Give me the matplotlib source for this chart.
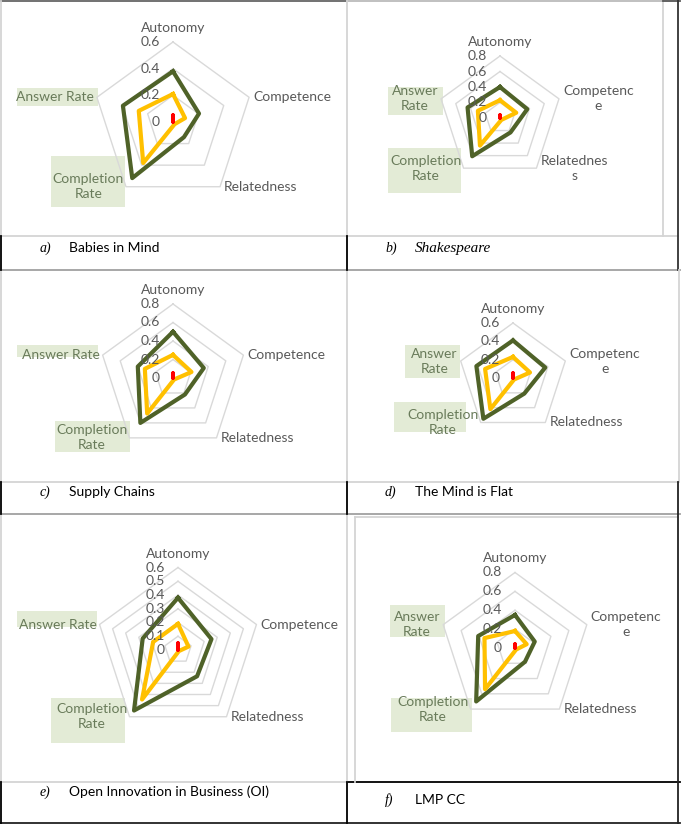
import numpy as np
import matplotlib.pyplot as plt
from matplotlib.patches import Rectangle

# radar axes, clockwise from the top
categories = ['Autonomy', 'Competence', 'Relatedness', 'Completion Rate', 'Answer Rate']
letters = ['a)', 'b)', 'c)', 'd)', 'e)', 'f)']
titles = ['Babies in Mind', 'Shakespeare', 'Supply Chains', 'The Mind is Flat',
          'Open Innovation in Business (OI)', 'LMP CC']

# values (a..f)
green = [[0.38, 0.205, 0.14, 0.52, 0.395],
         [0.40, 0.37, 0.23, 0.61, 0.44],
         [0.50, 0.35, 0.22, 0.60, 0.40],
         [0.41, 0.37, 0.21, 0.55, 0.42],
         [0.38, 0.256, 0.236, 0.544, 0.27],
         [0.35, 0.22, 0.18, 0.70, 0.41]]
yellow = [[0.21, 0.095, 0.02, 0.38, 0.27],
          [0.23, 0.22, 0.03, 0.44, 0.30],
          [0.25, 0.21, 0.02, 0.475, 0.32],
          [0.23, 0.195, 0.02, 0.42, 0.32],
          [0.19, 0.08, 0.01, 0.445, 0.19],
          [0.18, 0.13, 0.02, 0.54, 0.34]]
red = [[0.05, 0.0, 0.0, 0.0, 0.0],
       [0.04, 0.0, 0.0, 0.0, 0.0],
       [0.05, 0.0, 0.0, 0.0, 0.0],
       [0.06, 0.0, 0.0, 0.0, 0.0],
       [0.05, 0.0, 0.0, 0.0, 0.0],
       [0.04, 0.0, 0.0, 0.0, 0.0]]
r_max = [0.6, 0.8, 0.8, 0.6, 0.6, 0.8]
r_step = [0.2, 0.2, 0.2, 0.2, 0.1, 0.2]

# Excel wrapped some category labels
labels = [['Autonomy', 'Competence', 'Relatedness', 'Completion\nRate', 'Answer Rate'],
          ['Autonomy', 'Competenc\ne', 'Relatednes\ns', 'Completion\nRate', 'Answer\nRate'],
          ['Autonomy', 'Competence', 'Relatedness', 'Completion\nRate', 'Answer Rate'],
          ['Autonomy', 'Competenc\ne', 'Relatedness', 'Completion\nRate', 'Answer\nRate'],
          ['Autonomy', 'Competence', 'Relatedness', 'Completion\nRate', 'Answer Rate'],
          ['Autonomy', 'Competenc\ne', 'Relatedness', 'Completion\nRate', 'Answer\nRate']]

# layout (pixels from top-left)
W, H = 685, 824
centers = [(173, 122), (500, 118), (173, 378), (513, 378), (178, 650), (515, 648)]
radii = [80, 62, 74, 55, 82.5, 75.5]
hl_boxes = [[(17, 88, 98, 106), (51, 156, 125, 207)],
            [(388, 87, 443, 115), (388, 148, 461, 193)],
            [(17, 345, 98, 357), (55, 421, 130, 452)],
            [(405, 345, 460, 378), (394, 402, 466, 432)],
            [(17, 611, 97, 627), (51, 698, 125, 743)],
            [(390, 605, 445, 637), (391, 698, 472, 732)]]
cap_y = [248, 248, 492, 492, 792, 800]
lab_off = [(0, 14), (4, 0), (4, 0), (-2, 0), (-3, 0)]
lab_ha = ['center', 'left', 'left', 'right', 'right']

GRAY = '#595959'
BOXTXT = '#697b5a'
BOXBG = '#e3ebd6'
FS = 10

fig = plt.figure(figsize=(W / 100, H / 100), dpi=100)

bg = fig.add_axes([0, 0, 1, 1], zorder=-1)
bg.set_xlim(0, W)
bg.set_ylim(H, 0)
bg.set_axis_off()

light = '#d4d4d4'
# table / chart frame lines
hlines = [(1, 0, 347, '#666666'), (1, 347, 663, '#bbbbbb'), (1, 663, 680, '#555555'),
          (236, 0, 678, light), (270, 0, 680, '#a0a0a0'),
          (482, 0, 678, light), (514, 0, 680, '#a0a0a0'),
          (782, 0, 347, light), (782, 347, 680, '#000000'), (823, 0, 680, '#222222'),
          (517, 355, 678, light)]
for y, x0, x1, c in hlines:
    bg.plot([x0, x1], [y, y], color=c, lw=1.3)
for x in [1, 347]:
    for y0, y1 in [(1, 236), (270, 482), (514, 782)]:
        bg.plot([x, x], [y0, y1], color=light, lw=1.3)
    for y0, y1 in [(236, 270), (482, 514), (782, 823)]:
        bg.plot([x, x], [y0, y1], color='#000000', lw=1.3)
bg.plot([678, 678], [0, 270], color='#333333', lw=1.3)
bg.plot([679, 679], [270, 482], color=light, lw=1.3)
bg.plot([678, 678], [482, 823], color='#222222', lw=1.3)
bg.plot([663, 663], [3, 236], color=light, lw=1.3)
bg.plot([355, 355], [517, 782], color=light, lw=1.3)

angles = np.arange(5) * 2 * np.pi / 5
ang_c = np.append(angles, angles[0])

for i in range(6):
    cx, cy = centers[i]
    R = radii[i]
    ax = fig.add_axes([(cx - R) / W, 1 - (cy + R) / H, 2 * R / W, 2 * R / H],
                      projection='polar')
    ax.set_theta_offset(np.pi / 2)
    ax.set_theta_direction(-1)
    ax.set_ylim(0, r_max[i])
    ax.set_axis_off()

    ticks = np.round(np.arange(0, r_max[i] + 1e-9, r_step[i]), 2)
    for v in ticks[1:]:
        ax.plot(ang_c, [v] * 6, color='#d9d9d9', lw=1, clip_on=False)
    for v in ticks:
        ax.annotate(f'{v:g}', xy=(0, v), xytext=(-13, 0), textcoords='offset pixels',
                    ha='right', va='center', color=GRAY, fontsize=FS,
                    family='Lato', annotation_clip=False)

    ax.plot(ang_c, green[i] + green[i][:1], color='#4f6228', lw=3, clip_on=False)
    ax.plot(ang_c, yellow[i] + yellow[i][:1], color='#ffc000', lw=3, clip_on=False)
    ax.plot(ang_c, red[i] + red[i][:1], color='#ff0000', lw=2.6, clip_on=False,
            solid_joinstyle='round', solid_capstyle='round')

    for k in range(5):
        boxed = k >= 3
        ax.annotate(labels[i][k], xy=(angles[k], r_max[i]), xytext=lab_off[k],
                    textcoords='offset pixels', ha=lab_ha[k], va='center',
                    multialignment='center', linespacing=1.3,
                    color=BOXTXT if boxed else GRAY, fontsize=FS, family='Lato',
                    annotation_clip=False)

    for x0, y0, x1, y1 in hl_boxes[i]:
        bg.add_patch(Rectangle((x0, y0), x1 - x0, y1 - y0, color=BOXBG, lw=0))

    lx = 40 if i % 2 == 0 else 385
    tx = 69 if i % 2 == 0 else 415
    bg.text(lx, cap_y[i], letters[i], family='Liberation Serif', style='italic',
            fontsize=10, va='center')
    if i == 1:
        bg.text(tx, cap_y[i], titles[i], family='Liberation Serif', style='italic',
                fontsize=11, va='center')
    else:
        bg.text(tx, cap_y[i], titles[i], family='Lato', fontsize=10, va='center')

fig.savefig('out.png', dpi=100)
